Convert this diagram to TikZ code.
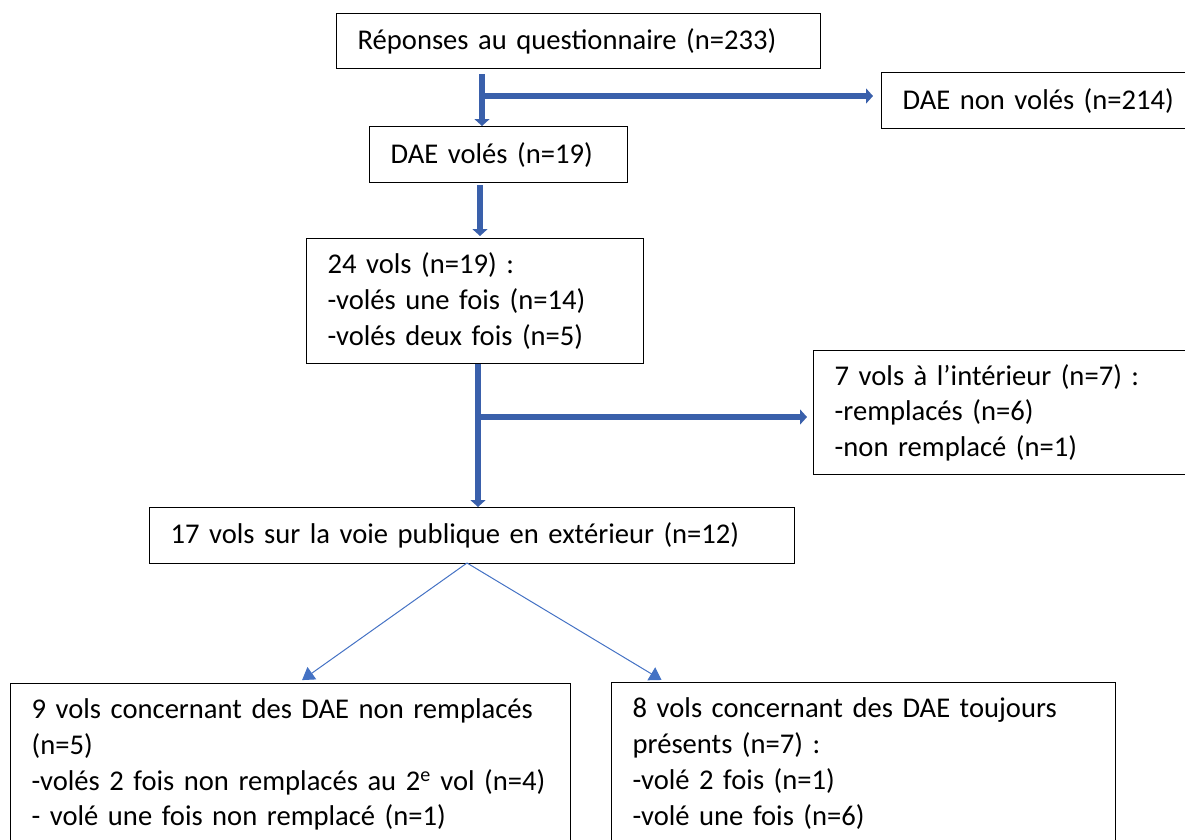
\documentclass[tikz,border=0pt]{standalone}
\usepackage{fontspec}
\setmainfont{Carlito}
\usetikzlibrary{arrows.meta}
\definecolor{flowblue}{HTML}{3A60AB}
\definecolor{lineblue}{HTML}{4472C4}

\begin{document}
\begin{tikzpicture}[x=1pt, y=-1pt]
				\tikzstyle{every node}=[font=\fontsize{28.6}{35.8}\selectfont]
				\tikzstyle{box}=[draw, line width=1.3pt, align=left, inner xsep=21pt, inner ysep=0pt, anchor=north west]
				\tikzstyle{bigarrow}=[draw=flowblue, line width=6pt, -{Triangle[width=15pt, length=7pt]}]
				\tikzstyle{thinarrow}=[draw=lineblue, line width=1pt, -{Triangle[width=15pt, length=12pt]}]
				\useasboundingbox (0,0) rectangle (1185,839);
				\node[box, text width=442, minimum height=55] (Q) at (336,13) {Réponses au questionnaire (n=233)};
				\node[box, text width=290, minimum height=56] (NV) at (881,72) {DAE non volés (n=214)};
				\node[box, text width=216, minimum height=56] (V) at (369,126) {DAE volés (n=19)};
				\node[box, text width=295, minimum height=125] (V24) at (306,238) {24 vols (n=19) :\\-volés une fois (n=14)\\-volés deux fois (n=5)};
				\node[box, text width=340, minimum height=124] (INT) at (813,350) {7 vols à l’intérieur (n=7) :\\-remplacés (n=6)\\-non remplacé (n=1)};
				\node[box, text width=603, minimum height=56] (EXT) at (149,507) {17 vols sur la voie publique en extérieur (n=12)};
				\node[box, text width=518, minimum height=162] (NR) at (10,683) {9 vols concernant des DAE non remplacés\\(n=5)\\-volés 2 fois non remplacés au 2\textsuperscript{e} vol (n=4)\\- volé une fois non remplacé (n=1)};
				\node[box, text width=462, minimum height=162] (TP) at (611,682) {8 vols concernant des DAE toujours\\présents (n=7) :\\-volé 2 fois (n=1)\\-volé une fois (n=6)};
				\coordinate (b1) at (482,96);
				\coordinate (b2) at (480,200);
				\coordinate (b3) at (478,417);
				\coordinate (apex) at (467,563);
				\draw [bigarrow, shorten <=5pt] (Q.south -| b1) -- (V.north -| b1);
				\draw [bigarrow, shorten >=8pt] (b1) -- (NV.west |- b1);
				\draw [bigarrow, shorten <=2pt, shorten >=2pt] (V.south -| b2) -- (V24.north -| b2);
				\draw [bigarrow] (V24.south -| b3) -- (EXT.north -| b3);
				\draw [bigarrow, shorten >=6pt] (b3) -- (INT.west |- b3);
				\draw [thinarrow, shorten >=5pt] (apex) -- (NR.north -| 298,0);
				\draw [thinarrow, shorten >=4pt] (apex) -- (TP.north -| 665,0);
		\end{tikzpicture}
\end{document}
